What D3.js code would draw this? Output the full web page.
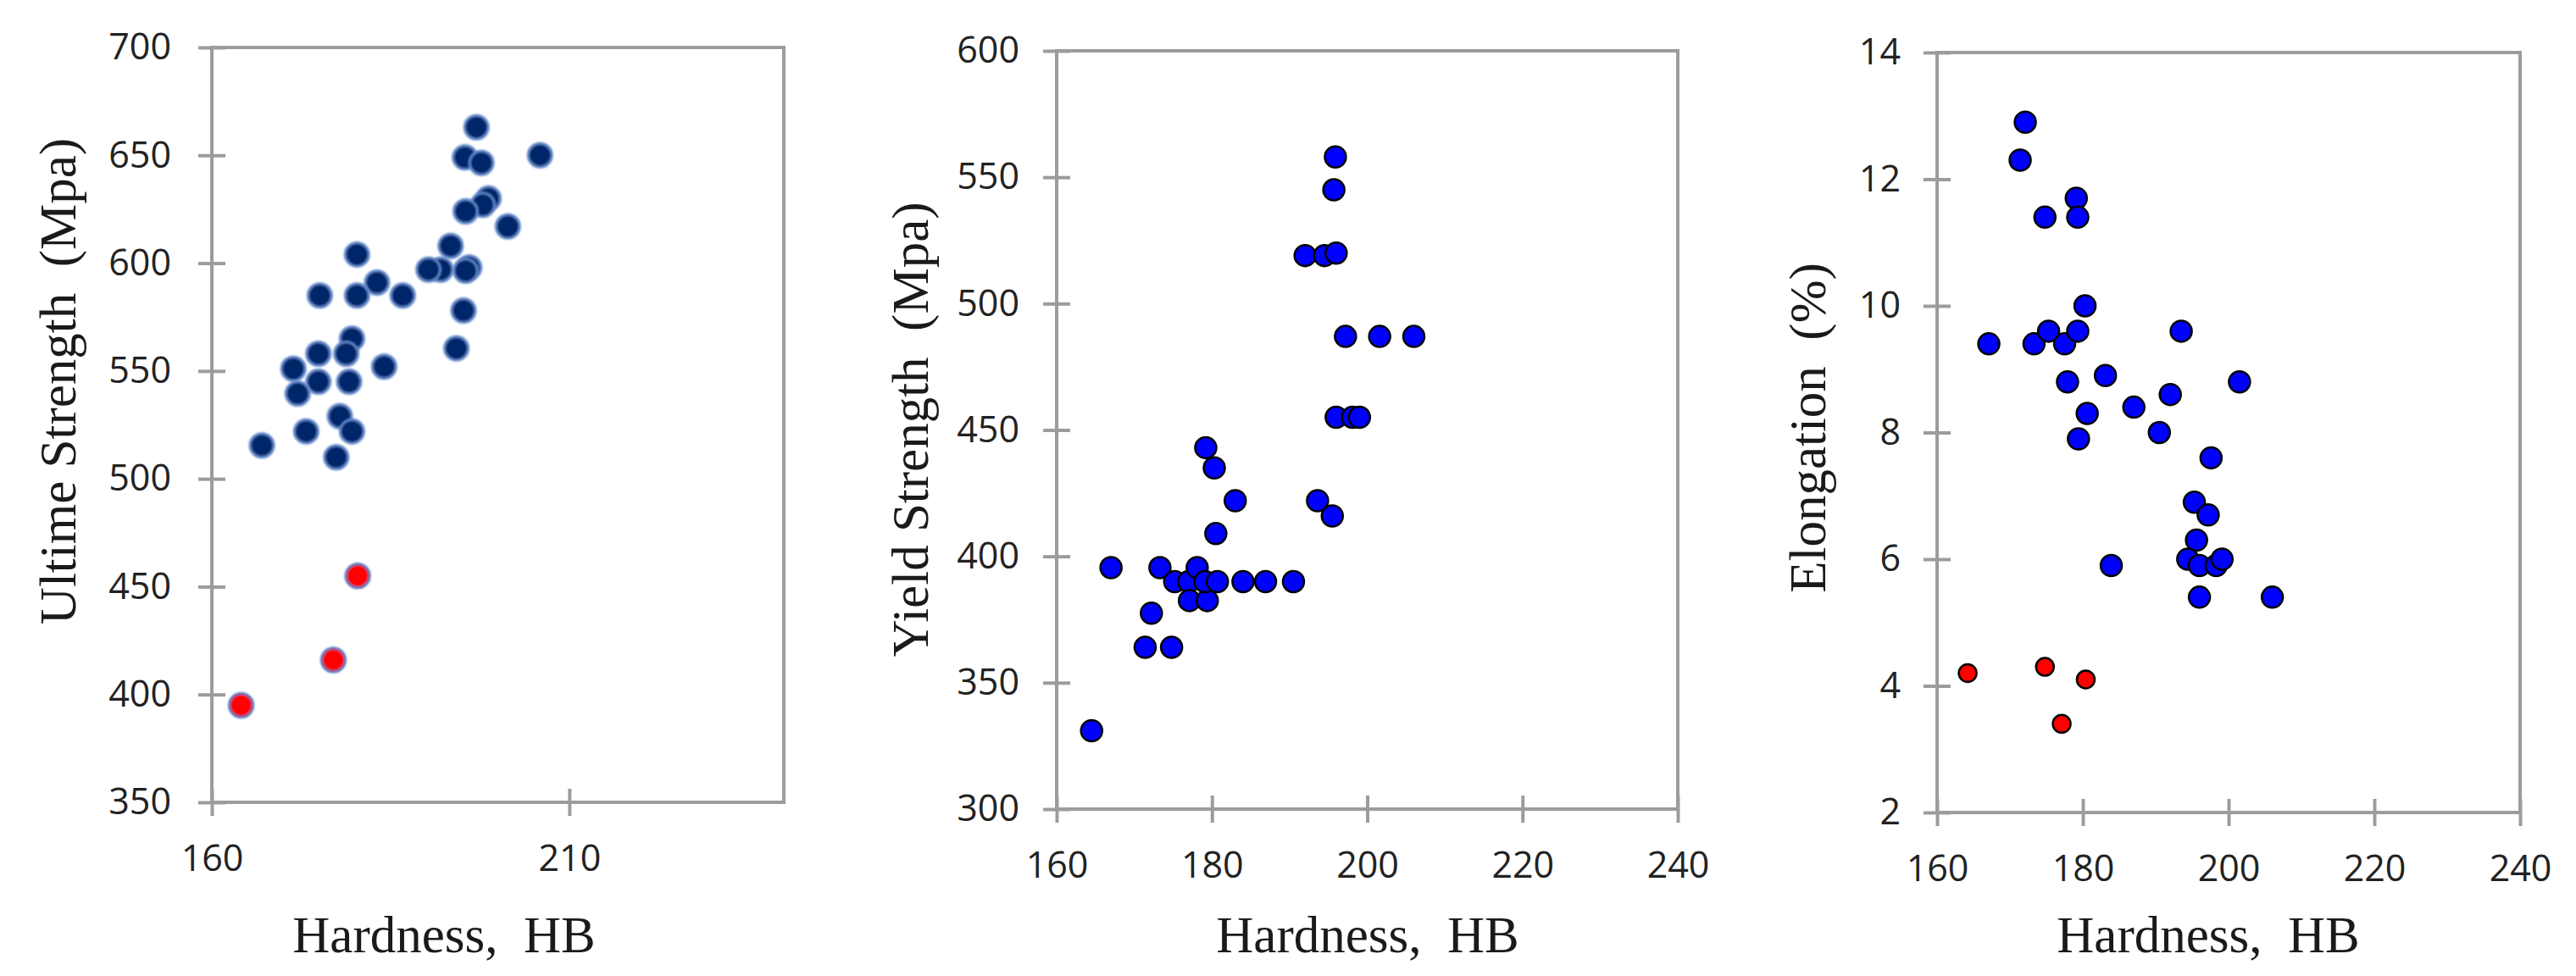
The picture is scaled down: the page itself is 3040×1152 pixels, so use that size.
<!DOCTYPE html>
<html>
<head>
<meta charset="utf-8">
<script src="https://cdn.jsdelivr.net/npm/d3@7"></script>
<style>
  html, body { margin: 0; padding: 0; background: #ffffff; }
  svg { display: block; }
</style>
</head>
<body>
<svg id="chart" width="3040" height="1152"></svg>
<script>
// ---------------- DATA ----------------
// Panel 1: Ultimate strength vs hardness
const p1HardnessBlue = [197.0,195.4,197.7,205.9,198.7,197.9,195.5,201.4,193.4,196.0,195.5,192.0,190.3,180.3,183.1,186.7,180.3,175.1,195.2,194.2,179.6,178.8,174.9,184.1,171.4,174.9,179.2,172.0,177.9,179.6,173.2,167.0,177.4];
const p1UltimateBlue = [663,649,646.5,650,630,627,624,617,608,598,596.5,597,597,604,591,585,585,585,578,560.5,565,558,558,552,551,545,545,539.5,529,522,522,515.5,510];
const p1HardnessRed = [180.4,177.0,164.1];
const p1UltimateRed = [455,416,395];

// Panel 2: Yield strength vs hardness
const p2Hardness = [164.5,167.0,171.4,174.8,172.2,173.3,175.2,177.0,178.1,177.1,179.4,179.1,180.7,179.2,180.3,180.5,183.0,184.0,186.9,190.5,192.0,194.5,196.0,195.7,195.9,193.6,195.5,197.2,201.6,206.0,196.0,198.1,199.0];
const p2Yield    = [331,395.5,364,364,377.5,395.5,390,390,395.5,382.5,382.5,390,390,443,435,409,422,390,390,390,519,519,520,545,558,422,416,487,487,487,455,455,455];

// Panel 3: Elongation vs hardness
const p3HardnessBlue = [172.1,171.4,174.8,179.1,179.3,180.3,167.1,173.3,175.3,177.5,179.3,177.9,183.1,180.6,179.4,187.0,190.5,192.0,193.5,201.5,197.6,195.3,197.2,195.6,194.4,196.0,198.3,199.1,196.0,183.9,206.0];
const p3ElongBlue    = [12.9,12.3,11.4,11.7,11.4,10.0,9.4,9.4,9.6,9.4,9.6,8.8,8.9,8.3,7.9,8.4,8.0,8.6,9.6,8.8,7.6,6.9,6.7,6.3,6.0,5.9,5.9,6.0,5.4,5.9,5.4];
const p3HardnessRed  = [164.2,174.8,180.4,177.1];
const p3ElongRed     = [4.2,4.3,4.1,3.4];

// Tick values
const p1XTicks = [160, 210];
const p1YTicks = [350, 400, 450, 500, 550, 600, 650, 700];
const p2XTicks = [160, 180, 200, 220, 240];
const p2YTicks = [300, 350, 400, 450, 500, 550, 600];
const p3XTicks = [160, 180, 200, 220, 240];
const p3YTicks = [2, 4, 6, 8, 10, 12, 14];

// Titles
const xTitle = "Hardness,  HB";
const p1YTitle = "Ultime Strength  (Mpa)";
const p2YTitle = "Yield Strength  (Mpa)";
const p3YTitle = "Elongation  (%)";

// ---------------- DRAWING ----------------
const svg = d3.select("#chart");
const defs = svg.append("defs");
defs.append("filter").attr("id", "soft")
  .attr("x", "-30%").attr("y", "-30%").attr("width", "160%").attr("height", "160%")
  .append("feGaussianBlur").attr("stdDeviation", 1.1);

const AXIS_COLOR = "#9c9c9c";
const TICK_FONT = "'Open Sans', 'DejaVu Sans', sans-serif";
const TITLE_FONT = "'Liberation Serif', 'DejaVu Serif', serif";

function panel(cfg) {
  const x = d3.scaleLinear().domain(cfg.xDomain).range([cfg.left, cfg.right]);
  const y = d3.scaleLinear().domain(cfg.yDomain).range([cfg.bottom, cfg.top]);
  const g = svg.append("g");

  // plot border
  g.append("rect")
    .attr("x", cfg.left).attr("y", cfg.top)
    .attr("width", cfg.right - cfg.left).attr("height", cfg.bottom - cfg.top)
    .attr("fill", "none").attr("stroke", AXIS_COLOR).attr("stroke-width", 4);

  // x axis
  const xa = g.append("g").attr("transform", `translate(0,${cfg.bottom})`)
    .call(d3.axisBottom(x).tickValues(cfg.xTicks).tickSize(16).tickSizeOuter(0).tickPadding(34).tickFormat(d3.format("d")));
  xa.select(".domain").remove();
  xa.selectAll(".tick line").attr("y1", -16).attr("y2", 16)
    .attr("stroke", AXIS_COLOR).attr("stroke-width", 4);
  xa.selectAll(".tick text").attr("font-family", TICK_FONT).attr("font-size", 43)
    .attr("fill", "#222222");

  // y axis
  const ya = g.append("g").attr("transform", `translate(${cfg.left},0)`)
    .call(d3.axisLeft(y).tickValues(cfg.yTicks).tickSize(16).tickSizeOuter(0).tickPadding(cfg.yPad).tickFormat(d3.format("d")));
  ya.select(".domain").remove();
  ya.selectAll(".tick line").attr("x1", -16).attr("x2", 16)
    .attr("stroke", AXIS_COLOR).attr("stroke-width", 4);
  ya.selectAll(".tick text").attr("font-family", TICK_FONT).attr("font-size", 43)
    .attr("fill", "#222222");

  // titles
  g.append("text")
    .attr("x", cfg.xTitleX).attr("y", 1124)
    .attr("text-anchor", "middle")
    .attr("font-family", TITLE_FONT).attr("font-size", 61)
    .attr("fill", "#1a1a1a").style("white-space", "pre")
    .text(xTitle);
  g.append("text")
    .attr("transform", `translate(${cfg.yTitleX},${cfg.yTitleY}) rotate(-90)`)
    .attr("text-anchor", "middle").attr("dy", "0.33em")
    .attr("font-family", TITLE_FONT).attr("font-size", 61)
    .attr("fill", "#1a1a1a").style("white-space", "pre")
    .text(cfg.yTitle);

  // series
  cfg.series.forEach(s => {
    const pts = s.xs.map((v, i) => [v, s.ys[i]]);
    g.append("g").selectAll("circle").data(pts).join("circle")
      .attr("cx", d => x(d[0])).attr("cy", d => y(d[1]))
      .attr("r", s.r)
      .attr("fill", s.fill).attr("stroke", s.stroke).attr("stroke-width", s.sw)
      .attr("filter", s.soft ? "url(#soft)" : null);
  });
}

panel({
  left: 250, right: 925, top: 56, bottom: 947,
  xDomain: [160, 240], yDomain: [350, 700],
  xTicks: p1XTicks, yTicks: p1YTicks, yPad: 32,
  xTitleX: 524, yTitleX: 69, yTitleY: 450, yTitle: p1YTitle,
  series: [
    { xs: p1HardnessBlue, ys: p1UltimateBlue, r: 14, fill: "#06276a", stroke: "#5f86c8", sw: 3, soft: true },
    { xs: p1HardnessRed, ys: p1UltimateRed, r: 14, fill: "#ff0000", stroke: "#4f73b8", sw: 3, soft: true }
  ]
});

panel({
  left: 1247, right: 1980, top: 60, bottom: 955,
  xDomain: [160, 240], yDomain: [300, 600],
  xTicks: p2XTicks, yTicks: p2YTicks, yPad: 28,
  xTitleX: 1614, yTitleX: 1075, yTitleY: 507, yTitle: p2YTitle,
  series: [
    { xs: p2Hardness, ys: p2Yield, r: 12.5, fill: "#0000ff", stroke: "#000000", sw: 2.5, soft: false }
  ]
});

panel({
  left: 2286, right: 2974, top: 62, bottom: 959,
  xDomain: [160, 240], yDomain: [2, 14],
  xTicks: p3XTicks, yTicks: p3YTicks, yPad: 27,
  xTitleX: 2606, yTitleX: 2134, yTitleY: 505, yTitle: p3YTitle,
  series: [
    { xs: p3HardnessBlue, ys: p3ElongBlue, r: 12.5, fill: "#0000ff", stroke: "#000000", sw: 2.5, soft: false },
    { xs: p3HardnessRed, ys: p3ElongRed, r: 10.5, fill: "#ff0000", stroke: "#000000", sw: 2.5, soft: false }
  ]
});
</script>
</body>
</html>
